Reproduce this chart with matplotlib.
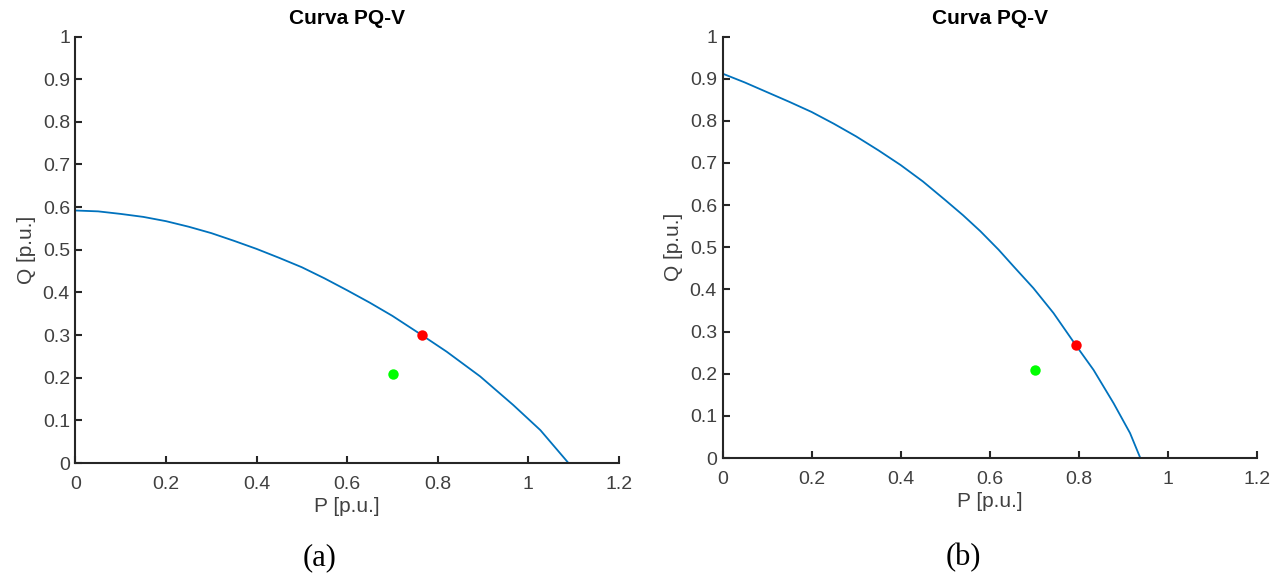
import matplotlib
matplotlib.use("Agg")
import matplotlib.pyplot as plt
from matplotlib.ticker import FuncFormatter

plt.rcParams['font.family'] = ['Liberation Sans', 'DejaVu Sans']

# curve (a)
p_a = [0.0, 0.05, 0.1, 0.15, 0.2, 0.25, 0.3, 0.35, 0.4, 0.45, 0.5, 0.55, 0.6,
       0.65, 0.7, 0.765, 0.82, 0.894, 0.967, 1.027, 1.089]
q_a = [0.592, 0.590, 0.584, 0.577, 0.567, 0.554, 0.539, 0.521, 0.502, 0.481, 0.459, 0.433, 0.405,
       0.376, 0.345, 0.300, 0.261, 0.203, 0.136, 0.077, 0.0]

# curve (b)
p_b = [0.0, 0.05, 0.1, 0.15, 0.2, 0.25, 0.3, 0.35, 0.4, 0.45, 0.5, 0.54, 0.579,
       0.62, 0.654, 0.698, 0.743, 0.793, 0.833, 0.878, 0.915, 0.938]
q_b = [0.912, 0.891, 0.868, 0.845, 0.821, 0.793, 0.763, 0.730, 0.695, 0.656, 0.612, 0.576, 0.538,
       0.494, 0.454, 0.403, 0.344, 0.268, 0.209, 0.130, 0.059, 0.0]

# operating points
red_a = (0.765, 0.300)
red_b = (0.793, 0.268)
green_pt = (0.702, 0.208)

xticks = [0, 0.2, 0.4, 0.6, 0.8, 1, 1.2]
yticks = [0, 0.1, 0.2, 0.3, 0.4, 0.5, 0.6, 0.7, 0.8, 0.9, 1]

fig = plt.figure(figsize=(12.85, 5.78), dpi=100)
ax1 = fig.add_axes([0.05875, 0.19896, 0.42272, 0.73789])
ax2 = fig.add_axes([0.56226, 0.20761, 0.41595, 0.72924])

fmt = FuncFormatter(lambda v, pos: '%g' % v)

for ax, p, q, red in [(ax1, p_a, q_a, red_a), (ax2, p_b, q_b, red_b)]:
    ax.plot(p, q, color='#0072BD', lw=1.3)
    ax.plot(*red, 'o', color='#FF0000', ms=7.5, mec='none')
    ax.plot(*green_pt, 'o', color='#00FF00', ms=7.5, mec='none')
    ax.set_xlim(0, 1.2)
    ax.set_ylim(0, 1)
    ax.set_xticks(xticks)
    ax.set_yticks(yticks)
    ax.xaxis.set_major_formatter(fmt)
    ax.yaxis.set_major_formatter(fmt)
    for s in ['top', 'right']:
        ax.spines[s].set_visible(False)
    for s in ['left', 'bottom']:
        ax.spines[s].set_color('#262626')
        ax.spines[s].set_linewidth(1.5)
    ax.tick_params(direction='in', length=5, width=1.5, color='#262626',
                   labelcolor='#404040', labelsize=14)
    ax.tick_params(axis='x', pad=9)
    ax.tick_params(axis='y', pad=4)
    ax.set_xlabel('P [p.u.]', fontsize=15, color='#404040', labelpad=3)
    ax.set_ylabel('Q [p.u.]', fontsize=15, color='#404040', labelpad=5)
    ax.set_title('Curva PQ-V', fontsize=15, fontweight='bold', color='black', pad=9)

# sub-figure captions
fig.text(320 / 1285, 1 - 558 / 578, '(a)', ha='center', va='center',
         fontsize=22, family='Liberation Serif')
fig.text(963 / 1285, 1 - 558 / 578, '(b)', ha='center', va='center',
         fontsize=22, family='Liberation Serif')

fig.savefig('out.png', dpi=100)
